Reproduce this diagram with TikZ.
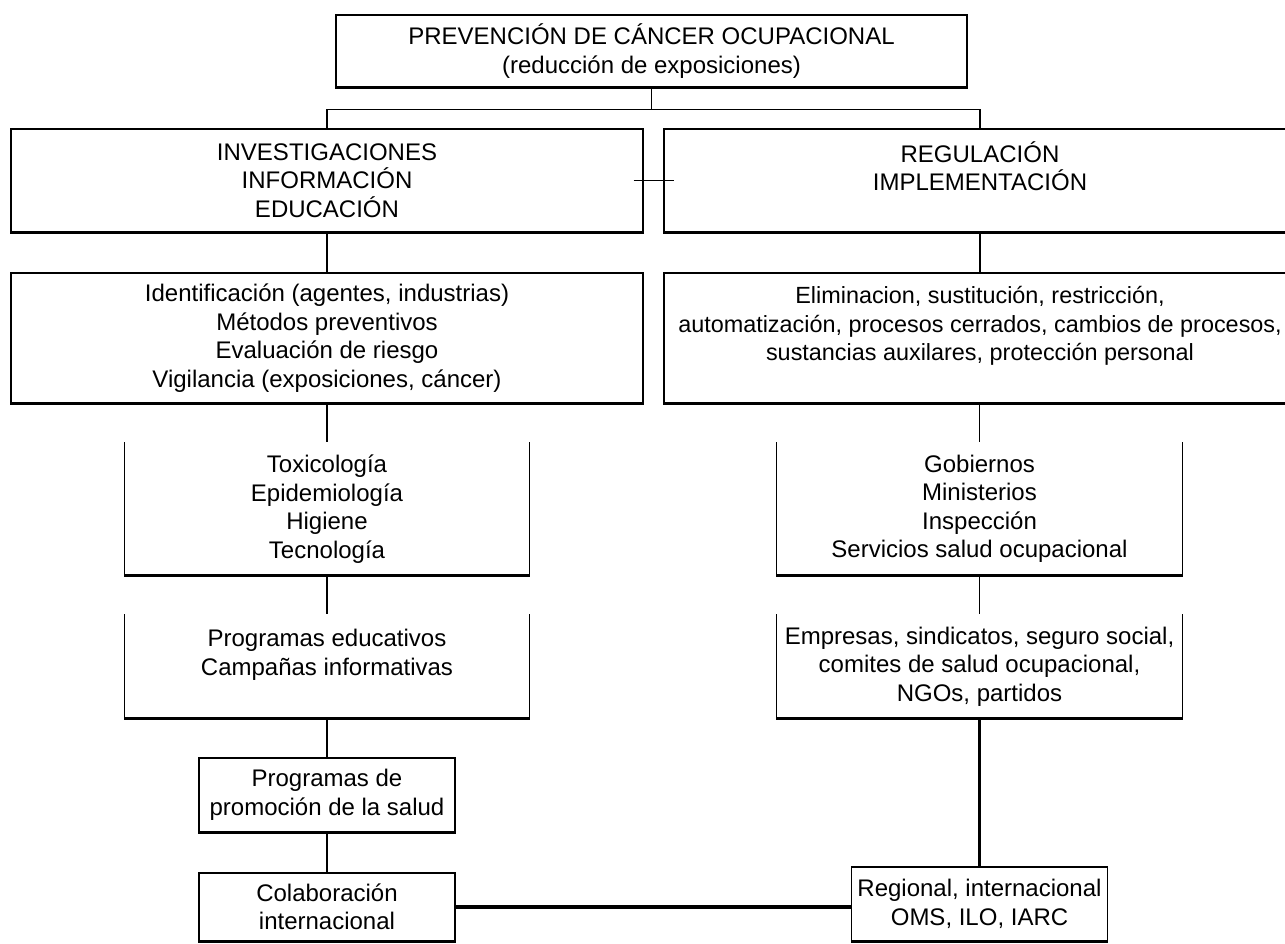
\documentclass[tikz,border=0pt]{standalone}
\usepackage{fontspec}
\setmainfont{Liberation Sans}
\usepackage{tikz}
\tikzset{
  box/.style={
    draw,
    rectangle,
    line width=1.3pt,
    align=center,
    inner sep=0pt,
    font=\fontsize{24}{28.5}\selectfont
  },
  openbox/.style={box, draw=none},
  link/.style={line width=1.1pt},
  heavy/.style={line width=3.6pt}
}

\begin{document}
\begin{tikzpicture}[x=1pt, y=-1pt]
    \useasboundingbox (0,0) rectangle (1285,943);
    \clip (0,0) rectangle (1285,943);
    % Top
    \node[box, minimum width=631pt, minimum height=72pt] (top) at (651.5,51)
        {PREVENCIÓN DE CÁNCER OCUPACIONAL\\(reducción de exposiciones)};

    % Two branches
    \node[box, minimum width=632pt, minimum height=103pt] (inv) at (327,180.5)
        {INVESTIGACIONES\\INFORMACIÓN\\EDUCACIÓN};
    \node[box, minimum width=632pt, minimum height=103pt] (reg) at (980,180.5)
        {REGULACIÓN\\IMPLEMENTACIÓN\\~};

    \node[box, minimum width=632pt, minimum height=130pt] (ident) at (327,338)
        {Identificación (agentes, industrias)\\Métodos preventivos\\Evaluación de riesgo\\Vigilancia (exposiciones, cáncer)};
    \node[box, minimum width=632pt, minimum height=130pt, font=\fontsize{23.4}{28.5}\selectfont] (elim) at (980,338)
        {Eliminacion, sustitución, restricción,\\automatización, procesos cerrados, cambios de procesos,\\sustancias auxilares, protección personal\\~};

    \node[openbox, minimum width=404pt, minimum height=132pt] (tox) at (327,509)
        {Toxicología\\Epidemiología\\Higiene\\Tecnología};
    \node[openbox, minimum width=405pt, minimum height=132pt] (gob) at (979.5,509)
        {Gobiernos\\Ministerios\\Inspección\\Servicios salud ocupacional};

    \node[openbox, minimum width=404pt, minimum height=103pt] (edu) at (327,666.5)
        {Programas educativos\\Campañas informativas\\~};
    \node[openbox, minimum width=405pt, minimum height=103pt] (emp) at (979.5,666.5)
        {Empresas, sindicatos, seguro social,\\comites de salud ocupacional,\\NGOs, partidos};

    \node[box, minimum width=256pt, minimum height=74pt] (promo) at (327,795)
        {Programas de\\promoción de la salud};
    \node[box, minimum width=256pt, minimum height=68pt] (colab) at (327,907)
        {Colaboración\\internacional};
    \node[box, minimum width=256pt, minimum height=74pt] (intl) at (979.5,904)
        {Regional, internacional\\OMS, ILO, IARC};

    % Boxes open at the top
    \foreach \n in {tox,gob,edu,emp}
        \draw[line width=1.3pt] (\n.north west) -- (\n.south west) -- (\n.south east) -- (\n.north east);

    % Heavier bottom edges
    \foreach \n in {top,inv,reg,ident,elim,tox,gob,edu,emp,promo,colab,intl}
        \draw[line width=2.6pt] (\n.south west) -- (\n.south east);

    % Connectors
    \draw[link] (top.south) -- ++(0,22) -| (inv.north);
    \draw[link] (top.south) -- ++(0,22) -| (reg.north);
    \draw[line width=1.3pt] ([xshift=-10pt]inv.east) -- ([xshift=11pt]reg.west);
    \draw[link] (inv.south) -- (ident.north);
    \draw[link] (reg.south) -- (elim.north);
    \draw[link] (ident.south) -- (tox.north);
    \draw[link] (gob.north |- elim.south) -- (gob.north);
    \draw[link] (tox.south) -- (edu.north);
    \draw[link] (gob.south) -- (emp.north);
    \draw[link] (edu.south) -- (promo.north);
    \draw[link] (promo.south) -- (colab.north);
    \draw[heavy] (emp.south) -- (intl.north);
    \draw[heavy] (colab.east) -- (colab.east -| intl.west);
\end{tikzpicture}
\end{document}
